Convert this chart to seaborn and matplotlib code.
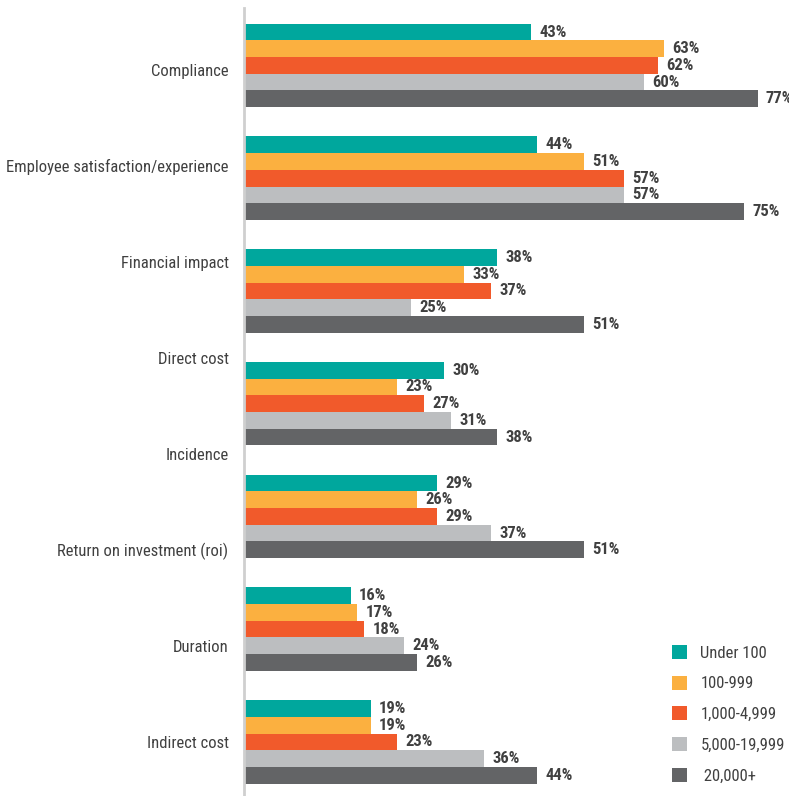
import numpy as np
import pandas as pd
import matplotlib
matplotlib.use("Agg")
import matplotlib.pyplot as plt
from matplotlib import font_manager
from matplotlib.patches import Patch
import seaborn as sns

# Category labels shown on the axis
axis_labels = [
    "Compliance",
    "Employee satisfaction/experience",
    "Financial impact",
    "Direct cost",
    "Incidence",
    "Return on investment (roi)",
    "Duration",
    "Indirect cost",
]

# Bar groups (one per block of five bars)
groups = [
    "Compliance",
    "Employee satisfaction/experience",
    "Financial impact",
    "Direct cost",
    "Return on investment (roi)",
    "Duration",
    "Indirect cost",
]

sizes = ["Under 100", "100-999", "1,000-4,999", "5,000-19,999", " 20,000+"]

under_100 = [43, 44, 38, 30, 29, 16, 19]
size_100_999 = [63, 51, 33, 23, 26, 17, 19]
size_1000_4999 = [62, 57, 37, 27, 29, 18, 23]
size_5000_19999 = [60, 57, 25, 31, 37, 24, 36]
size_20000_plus = [77, 75, 51, 38, 51, 26, 44]

colors = ["#00A79D", "#FBB040", "#F15A2B", "#BCBEC0", "#636466"]

series = [under_100, size_100_999, size_1000_4999, size_5000_19999, size_20000_plus]
rows = []
for size, vals in zip(sizes, series):
    for g, v in zip(groups, vals):
        rows.append({"group": g, "size": size, "value": v})
df = pd.DataFrame(rows)

sns.set_style("white")

# Prefer a condensed sans face; fall back to a narrow-metric one
available = {f.name for f in font_manager.fontManager.ttflist}
condensed = [n for n in ["Roboto Condensed", "DejaVu Sans Condensed",
                         "Liberation Sans Narrow", "Open Sans Condensed",
                         "Noto Sans Condensed"] if n in available]
if condensed:
    family = condensed[0]
    label_size, value_size = 12, 12
else:
    family = "Liberation Sans"
    label_size, value_size = 10.5, 10
plt.rcParams["font.family"] = [family, "DejaVu Sans"]
text_color = "#404040"

fig = plt.figure(figsize=(7.89, 7.96), dpi=100)
ax = fig.add_axes([0.309, 0.0, 0.691, 0.99])

sns.barplot(
    data=df, y="group", x="value", hue="size", order=groups, hue_order=sizes,
    palette=colors, width=0.74, saturation=1, orient="h", ax=ax, legend=False,
    linewidth=0,
)

for cont in ax.containers:
    ax.bar_label(cont, fmt="{:.0f}%", padding=6, fontsize=value_size,
                 fontweight="bold", color=text_color)

ax.set_xlim(0, 81.7)
ax.set_ylim(6.48, -0.51)
ax.set_xticks([])
ax.set_yticks(np.linspace(0.04, 6.0, len(axis_labels)))
ax.set_yticklabels(axis_labels, fontsize=label_size, color=text_color)
ax.tick_params(axis="y", length=0, pad=11)
ax.set_xlabel("")
ax.set_ylabel("")

for side in ["top", "right", "bottom"]:
    ax.spines[side].set_visible(False)
ax.spines["left"].set_color("#cfcfcf")
ax.spines["left"].set_linewidth(2)

handles = [Patch(facecolor=c, edgecolor="none") for c in colors]
leg = fig.legend(
    handles, sizes, loc="upper left", bbox_to_anchor=(672 / 789, 1 - 645 / 796),
    bbox_transform=fig.transFigure, frameon=False, fontsize=label_size,
    handlelength=0.9, handleheight=0.9, handletextpad=0.8, labelspacing=0.9,
    borderpad=0, borderaxespad=0,
)
for t in leg.get_texts():
    t.set_color(text_color)

fig.savefig("out.png", dpi=100)
